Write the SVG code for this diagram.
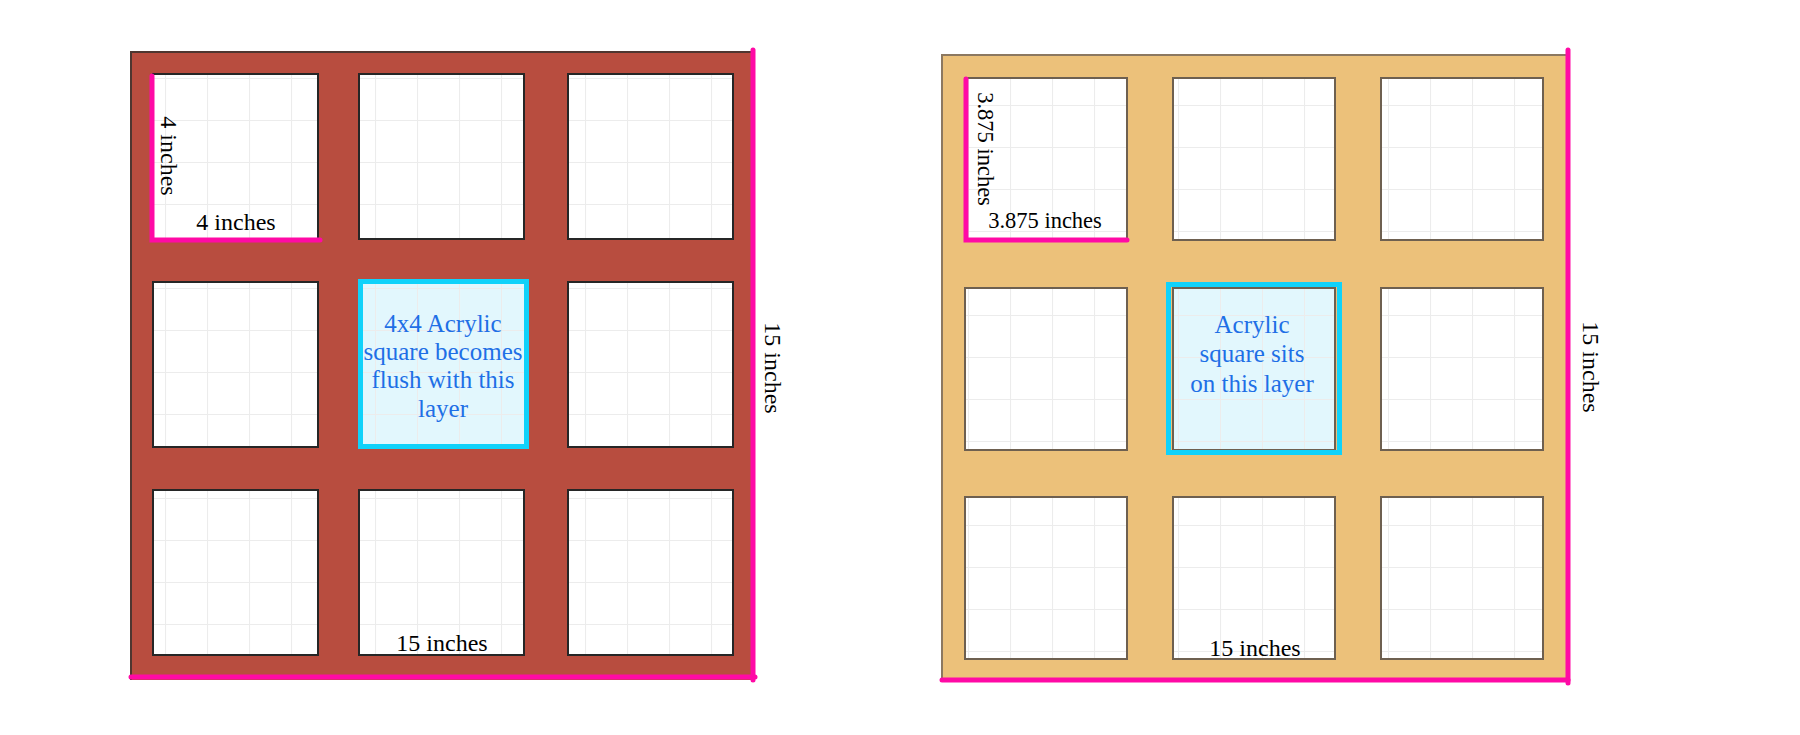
<svg xmlns="http://www.w3.org/2000/svg" width="1800" height="735" viewBox="0 0 1800 735">
  <style>
    .lbl { font-family: "Liberation Serif", "Times New Roman", serif; font-size: 24px; fill: #000; }
    .note { font-family: "Liberation Serif", "Times New Roman", serif; font-size: 25px; fill: #1e6fe6; text-anchor: middle; }
    .holeL { stroke: #262626; stroke-width: 2; }
    .holeR { stroke: #6e6050; stroke-width: 2; }
    .dim { stroke: #ff0aa5; stroke-width: 5; stroke-linecap: round; fill: none; }
    .hl { fill: none; stroke: #10d2fa; stroke-width: 5; }
  </style>
  <defs>
    <pattern id="gridL" patternUnits="userSpaceOnUse" x="39" y="36" width="42" height="42">
      <path d="M0.5 0V42M0 0.5H42" stroke="#ececec" stroke-width="1.2" fill="none"/>
    </pattern>
    <pattern id="gridR" patternUnits="userSpaceOnUse" x="2" y="21" width="42" height="42">
      <path d="M0.5 0V42M0 0.5H42" stroke="#ececec" stroke-width="1.2" fill="none"/>
    </pattern>
  </defs>
  <rect width="1800" height="735" fill="#fff"/>

  <!-- Left layer -->
  <g id="layer-left">
    <rect x="131" y="52" width="623" height="628" fill="#b84d3f"/>
    <path d="M131 680V52H754" fill="none" stroke="#4e3630" stroke-width="2"/>
    <g id="holes-left">
      <rect x="153" y="74" width="165" height="165" fill="#fff"/>
      <rect x="359" y="74" width="165" height="165" fill="#fff"/>
      <rect x="568" y="74" width="165" height="165" fill="#fff"/>
      <rect x="153" y="282" width="165" height="165" fill="#fff"/>
      <rect x="359" y="282" width="165" height="165" fill="#e2f7fd"/>
      <rect x="568" y="282" width="165" height="165" fill="#fff"/>
      <rect x="153" y="490" width="165" height="165" fill="#fff"/>
      <rect x="359" y="490" width="165" height="165" fill="#fff"/>
      <rect x="568" y="490" width="165" height="165" fill="#fff"/>
      <g fill="url(#gridL)">
        <rect x="153" y="74" width="165" height="165"/>
        <rect x="359" y="74" width="165" height="165"/>
        <rect x="568" y="74" width="165" height="165"/>
        <rect x="153" y="282" width="165" height="165"/>
        <rect x="359" y="282" width="165" height="165"/>
        <rect x="568" y="282" width="165" height="165"/>
        <rect x="153" y="490" width="165" height="165"/>
        <rect x="359" y="490" width="165" height="165"/>
        <rect x="568" y="490" width="165" height="165"/>
      </g>
      <g fill="none" class="holeL">
        <rect x="153" y="74" width="165" height="165"/>
        <rect x="359" y="74" width="165" height="165"/>
        <rect x="568" y="74" width="165" height="165"/>
        <rect x="153" y="282" width="165" height="165"/>
        <rect x="568" y="282" width="165" height="165"/>
        <rect x="153" y="490" width="165" height="165"/>
        <rect x="359" y="490" width="165" height="165"/>
        <rect x="568" y="490" width="165" height="165"/>
      </g>
    </g>
    <g id="acrylic-left">
      <rect class="hl" x="360.5" y="281.5" width="166" height="165"/>
      <text class="note" x="443" y="332">4x4 Acrylic</text>
      <text class="note" x="443" y="360">square becomes</text>
      <text class="note" x="443" y="388">flush with this</text>
      <text class="note" x="443" y="417">layer</text>
    </g>
  </g>

  <!-- Right layer -->
  <g id="layer-right">
    <rect x="942" y="55" width="624" height="626" fill="#ecc17a"/>
    <path d="M942 681V55H1566" fill="none" stroke="#8c7860" stroke-width="2"/>
    <g id="holes-right">
      <rect x="965" y="78" width="162" height="162" fill="#fff"/>
      <rect x="1173" y="78" width="162" height="162" fill="#fff"/>
      <rect x="1381" y="78" width="162" height="162" fill="#fff"/>
      <rect x="965" y="288" width="162" height="162" fill="#fff"/>
      <rect x="1173" y="288" width="162" height="162" fill="#e2f7fd"/>
      <rect x="1381" y="288" width="162" height="162" fill="#fff"/>
      <rect x="965" y="497" width="162" height="162" fill="#fff"/>
      <rect x="1173" y="497" width="162" height="162" fill="#fff"/>
      <rect x="1381" y="497" width="162" height="162" fill="#fff"/>
      <g fill="url(#gridR)">
        <rect x="965" y="78" width="162" height="162"/>
        <rect x="1173" y="78" width="162" height="162"/>
        <rect x="1381" y="78" width="162" height="162"/>
        <rect x="965" y="288" width="162" height="162"/>
        <rect x="1173" y="288" width="162" height="162"/>
        <rect x="1381" y="288" width="162" height="162"/>
        <rect x="965" y="497" width="162" height="162"/>
        <rect x="1173" y="497" width="162" height="162"/>
        <rect x="1381" y="497" width="162" height="162"/>
      </g>
      <g fill="none" class="holeR">
        <rect x="965" y="78" width="162" height="162"/>
        <rect x="1173" y="78" width="162" height="162"/>
        <rect x="1381" y="78" width="162" height="162"/>
        <rect x="965" y="288" width="162" height="162"/>
        <rect x="1173" y="288" width="162" height="162"/>
        <rect x="1381" y="288" width="162" height="162"/>
        <rect x="965" y="497" width="162" height="162"/>
        <rect x="1173" y="497" width="162" height="162"/>
        <rect x="1381" y="497" width="162" height="162"/>
      </g>
    </g>
    <g id="acrylic-right">
      <rect class="hl" x="1168.5" y="284.5" width="171" height="168" stroke-width="6"/>
      <text class="note" x="1252" y="333">Acrylic</text>
      <text class="note" x="1252" y="362">square sits</text>
      <text class="note" x="1252" y="392">on this layer</text>
    </g>
  </g>

  <!-- Dimension lines -->
  <g id="dimensions">
    <path class="dim" d="M152 76V240H320"/>
    <path class="dim" d="M753 50V680"/>
    <path class="dim" d="M131 677H755"/>
    <path class="dim" d="M966 79V240H1127"/>
    <path class="dim" d="M1568 50V683"/>
    <path class="dim" d="M942 680H1568"/>
  </g>

  <!-- Dimension labels -->
  <g id="labels">
    <text class="lbl" text-anchor="middle" transform="translate(161 156) rotate(90)">4 inches</text>
    <text class="lbl" text-anchor="middle" x="236" y="230">4 inches</text>
    <text class="lbl" text-anchor="middle" x="442" y="651">15 inches</text>
    <text class="lbl" text-anchor="middle" transform="translate(765 368) rotate(90)">15 inches</text>
    <text class="lbl" text-anchor="middle" style="font-size:22.5px" transform="translate(978 149) rotate(90)">3.875 inches</text>
    <text class="lbl" text-anchor="middle" style="font-size:22.5px" x="1045" y="228">3.875 inches</text>
    <text class="lbl" text-anchor="middle" x="1255" y="656">15 inches</text>
    <text class="lbl" text-anchor="middle" transform="translate(1583 367) rotate(90)">15 inches</text>
  </g>
</svg>
